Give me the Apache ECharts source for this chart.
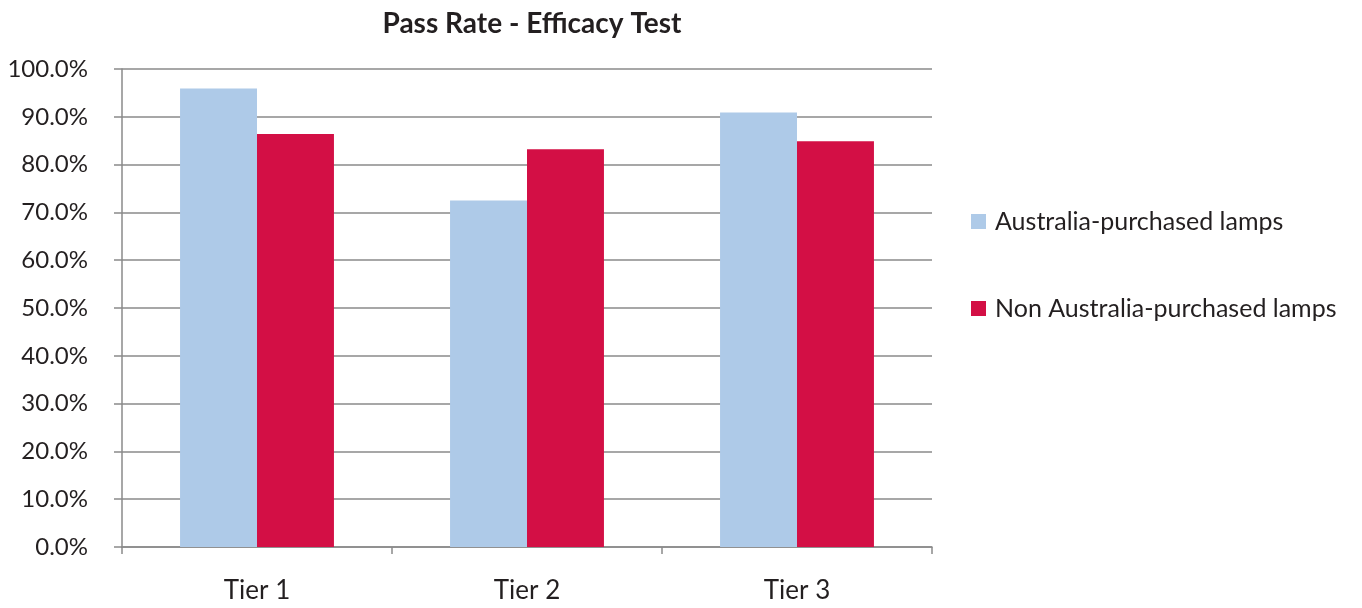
<!DOCTYPE html>
<html>
<head>
<meta charset="utf-8">
<script src="https://cdn.jsdelivr.net/npm/echarts@6/dist/echarts.min.js"></script>
<style>
  html, body { margin: 0; padding: 0; background: #fff; }
  #chart { width: 1362px; height: 608px; }
</style>
</head>
<body>
<div id="chart"></div>
<script>
var categories = ['Tier 1', 'Tier 2', 'Tier 3'];
var seriesNames = ['Australia-purchased lamps', 'Non Australia-purchased lamps'];
var australiaValues = [95.9, 72.5, 90.9];
var nonAustraliaValues = [86.4, 83.2, 84.9];
var colorList = ['#aecae8', '#d30f45'];

var chart = echarts.init(document.getElementById('chart'));
var font = 'Lato, "DejaVu Sans", sans-serif';
var textColor = '#231f20';
var lineColor = '#8a8a8a';

var option = {
    color: colorList,
    animation: false,
    title: {
        text: 'Pass Rate - Efficacy Test',
        left: 527,
        textAlign: 'center',
        top: 5,
        textStyle: { fontFamily: font, fontSize: 28, fontWeight: 'bold', color: textColor }
    },
    legend: {
        orient: 'vertical',
        left: 966,
        top: 204,
        itemWidth: 15,
        itemHeight: 15,
        itemGap: 62,
        icon: 'rect',
        textStyle: { fontFamily: font, fontSize: 25, color: textColor, padding: [0, 0, 0, 4] },
        data: seriesNames
    },
    grid: { left: 122, right: 430, top: 69, bottom: 61 },
    xAxis: {
        type: 'category',
        data: categories,
        axisLine: { lineStyle: { color: lineColor, width: 1.5 } },
        axisTick: { show: true, length: 7, lineStyle: { color: lineColor, width: 1.5 } },
        axisLabel: { fontFamily: font, fontSize: 26, color: textColor, margin: 31 }
    },
    yAxis: {
        type: 'value',
        min: 0,
        max: 100,
        interval: 10,
        axisLine: { show: true, lineStyle: { color: lineColor, width: 1.5 } },
        axisTick: { show: true, length: 8, lineStyle: { color: lineColor, width: 1.5 } },
        splitLine: { lineStyle: { color: lineColor, width: 1.5 } },
        axisLabel: {
            fontFamily: font, fontSize: 24, color: textColor, margin: 34,
            formatter: function (v) { return v.toFixed(1) + '%'; }
        }
    },
    series: [
        {
            name: seriesNames[0],
            type: 'bar',
            data: australiaValues,
            barGap: '0%',
            barCategoryGap: '43%'
        },
        {
            name: seriesNames[1],
            type: 'bar',
            data: nonAustraliaValues
        }
    ]
};
chart.setOption(option);
</script>
</body>
</html>
